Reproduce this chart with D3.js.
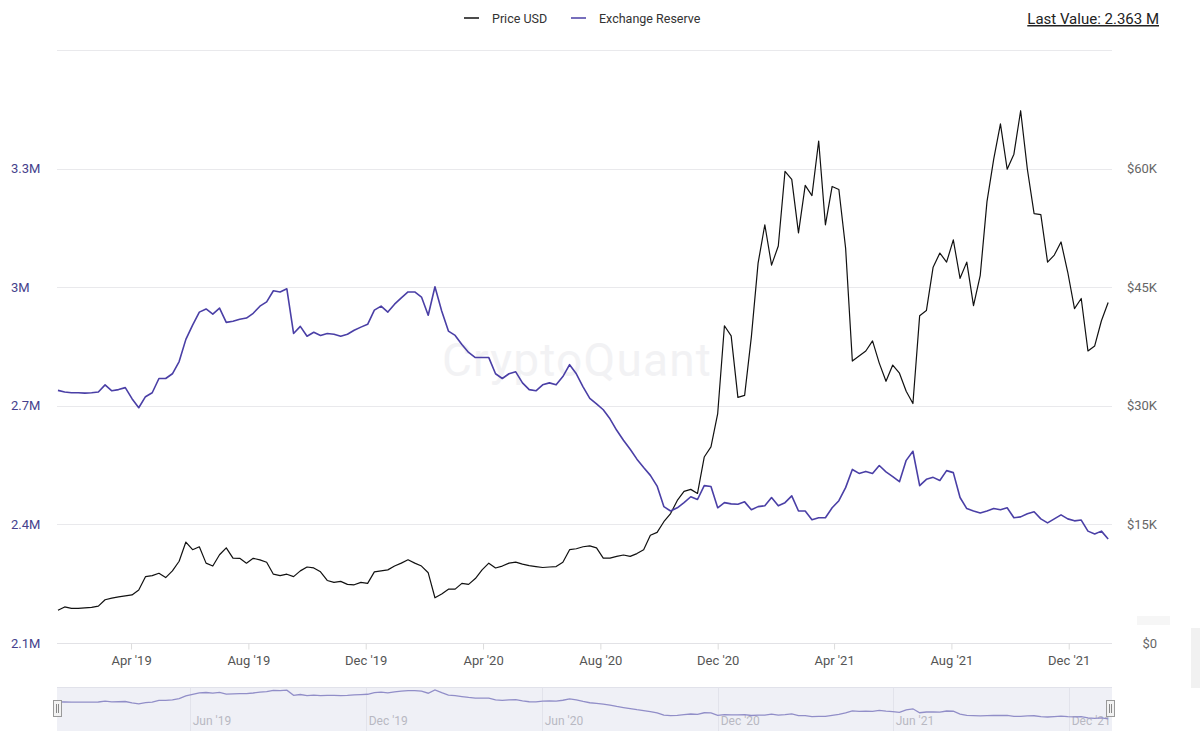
<!DOCTYPE html>
<html>
<head>
<meta charset="utf-8">
<script src="https://cdn.jsdelivr.net/npm/d3@7"></script>
<style>
  html, body { margin: 0; padding: 0; background: #ffffff; }
  svg { display: block; font-family: Roboto, 'Noto Sans', sans-serif; }
</style>
</head>
<body>
<div id="chart"></div>
<script>
// weekly samples, first one on 15 Jan 2019
const START_DATE = new Date(2019, 0, 15)
const STEP_DAYS = 7

// Exchange Reserve, million BTC
const reserveValues = [
  2.739, 2.735, 2.733, 2.733, 2.732, 2.733, 2.735, 2.753, 2.738, 2.741,
  2.746, 2.718, 2.695, 2.723, 2.733, 2.769, 2.769, 2.781, 2.812, 2.868,
  2.904, 2.937, 2.945, 2.932, 2.947, 2.911, 2.914, 2.919, 2.922, 2.934,
  2.952, 2.963, 2.991, 2.988, 2.996, 2.883, 2.901, 2.876, 2.886, 2.878,
  2.883, 2.881, 2.876, 2.881, 2.891, 2.899, 2.906, 2.942, 2.952, 2.937,
  2.957, 2.973, 2.988, 2.988, 2.975, 2.929, 3.001, 2.940, 2.889, 2.878,
  2.855, 2.835, 2.822, 2.822, 2.822, 2.781, 2.769, 2.781, 2.786, 2.758,
  2.741, 2.738, 2.753, 2.758, 2.753, 2.774, 2.804, 2.781, 2.748, 2.719,
  2.705, 2.690, 2.667, 2.638, 2.613, 2.590, 2.565, 2.544, 2.524, 2.497,
  2.445, 2.434, 2.442, 2.455, 2.470, 2.463, 2.498, 2.496, 2.442, 2.455,
  2.452, 2.451, 2.457, 2.437, 2.445, 2.447, 2.468, 2.447, 2.455, 2.472,
  2.434, 2.434, 2.412, 2.417, 2.417, 2.442, 2.460, 2.493, 2.539, 2.529,
  2.534, 2.529, 2.549, 2.533, 2.521, 2.508, 2.562, 2.585, 2.498, 2.514,
  2.519, 2.511, 2.536, 2.531, 2.468, 2.440, 2.434, 2.429, 2.434, 2.440,
  2.437, 2.442, 2.417, 2.419, 2.427, 2.432, 2.414, 2.404, 2.414, 2.424,
  2.414, 2.409, 2.411, 2.383, 2.376, 2.383, 2.363
]

// Price USD, thousands
const priceValues = [
  4.14, 4.56, 4.38, 4.38, 4.44, 4.50, 4.66, 5.47, 5.68, 5.84,
  5.96, 6.08, 6.69, 8.39, 8.52, 8.82, 8.27, 9.12, 10.34, 12.77,
  11.80, 12.17, 10.10, 9.73, 11.16, 12.04, 10.74, 10.71, 10.10, 10.71,
  10.52, 10.22, 8.70, 8.52, 8.70, 8.39, 9.12, 9.61, 9.49, 9.00,
  7.91, 7.66, 7.79, 7.42, 7.36, 7.66, 7.54, 9.00, 9.12, 9.25,
  9.73, 10.10, 10.52, 10.10, 9.73, 8.88, 5.72, 6.20, 6.81, 6.81,
  7.54, 7.42, 8.15, 9.25, 10.10, 9.49, 9.73, 10.10, 10.22, 9.98,
  9.79, 9.67, 9.55, 9.61, 9.67, 10.22, 11.80, 11.92, 12.17, 12.29,
  12.04, 10.74, 10.74, 10.95, 11.13, 10.95, 11.31, 11.80, 13.63, 13.99,
  15.34, 16.37, 18.03, 19.18, 19.43, 18.92, 23.52, 24.80, 29.02, 40.12,
  38.85, 31.06, 31.31, 38.72, 48.04, 52.90, 47.79, 50.21, 59.66, 58.64,
  51.87, 57.87, 56.59, 63.49, 52.89, 57.74, 57.36, 49.95, 35.66, 36.29,
  36.93, 38.21, 35.40, 33.10, 35.15, 34.12, 31.83, 30.29, 41.40, 42.04,
  47.53, 49.32, 48.17, 50.98, 46.12, 48.17, 42.68, 46.51, 55.83, 61.19,
  65.66, 59.92, 61.83, 67.32, 59.92, 54.30, 54.17, 48.17, 49.06, 50.72,
  46.89, 42.29, 43.57, 36.93, 37.57, 40.76, 43.06
]

const reserveTicks = [2.1, 2.4, 2.7, 3.0, 3.3, 3.6]
const reserveLabels = ['2.1M', '2.4M', '2.7M', '3M', '3.3M', '']
const priceTicks = [0, 15, 30, 45, 60, 75]
const priceLabels = ['$0', '$15K', '$30K', '$45K', '$60K', '']

const xTickDates = [
  new Date(2019, 3, 1), new Date(2019, 7, 1), new Date(2019, 11, 1),
  new Date(2020, 3, 1), new Date(2020, 7, 1), new Date(2020, 11, 1),
  new Date(2021, 3, 1), new Date(2021, 7, 1), new Date(2021, 11, 1)
]
const navTickDates = [
  new Date(2019, 5, 1), new Date(2019, 11, 1), new Date(2020, 5, 1),
  new Date(2020, 11, 1), new Date(2021, 5, 1), new Date(2021, 11, 1)
]

const LAST_VALUE = 'Last Value: 2.363 M'

const W = 1200
const H = 742
const PLOT_L = 57
const PLOT_R = 1112
const PLOT_T = 50
const PLOT_B = 643
const NAV_T = 687
const NAV_B = 731

const RESERVE_COLOR = '#4a3fa6'
const PRICE_COLOR = '#111111'
const GRID_COLOR = '#e9e9ec'

const dates = reserveValues.map((d, i) => d3.timeDay.offset(START_DATE, i * STEP_DAYS))

const x = d3
  .scaleTime()
  .domain([new Date(2019, 0, 14), new Date(2022, 0, 15)])
  .range([PLOT_L, PLOT_R])

const yReserve = d3.scaleLinear().domain([2.1, 3.6]).range([PLOT_B, PLOT_T])
const yPrice = d3.scaleLinear().domain([0, 75]).range([PLOT_B, PLOT_T])
const yNav = d3.scaleLinear().domain([2.36, 3.0]).range([719, 690])

const svg = d3.select('#chart').append('svg').attr('width', W).attr('height', H)

svg.append('rect').attr('width', W).attr('height', H).attr('fill', '#ffffff')

// faint screenshot artefacts at the right edge
svg.append('rect').attr('x', 1137).attr('y', 616).attr('width', 33).attr('height', 9).attr('fill', '#f6f6f6')
svg.append('rect').attr('x', 1191).attr('y', 628).attr('width', 9).attr('height', 60).attr('fill', '#f1f1f1')

// grid
svg
  .append('g')
  .selectAll('line')
  .data(reserveTicks)
  .join('line')
  .attr('x1', PLOT_L)
  .attr('x2', PLOT_R)
  .attr('y1', (d) => Math.round(yReserve(d)) + 0.5)
  .attr('y2', (d) => Math.round(yReserve(d)) + 0.5)
  .attr('stroke', (d, i) => (i === 0 ? '#e2e2e6' : GRID_COLOR))
  .attr('stroke-width', 1)

// watermark
svg
  .append('text')
  .attr('x', 577)
  .attr('y', 376)
  .attr('text-anchor', 'middle')
  .attr('font-size', 46)
  .attr('font-weight', 400)
  .attr('letter-spacing', 1.2)
  .attr('fill', '#f2f2f4')
  .text('CryptoQuant')

// left axis
const leftAxis = d3
  .axisLeft(yReserve)
  .tickValues(reserveTicks)
  .tickSize(0)
  .tickFormat((d, i) => reserveLabels[i])

svg
  .append('g')
  .attr('transform', 'translate(11,0)')
  .call(leftAxis)
  .call((g) => g.select('.domain').remove())
  .call((g) =>
    g
      .selectAll('text')
      .attr('x', 0)
      .attr('text-anchor', 'start')
      .attr('fill', '#463f8c')
      .attr('font-size', 13)
      .attr('font-family', 'Roboto, sans-serif')
  )

// right axis
const rightAxis = d3
  .axisRight(yPrice)
  .tickValues(priceTicks)
  .tickSize(0)
  .tickFormat((d, i) => priceLabels[i])

svg
  .append('g')
  .attr('transform', 'translate(1157,0)')
  .call(rightAxis)
  .call((g) => g.select('.domain').remove())
  .call((g) =>
    g
      .selectAll('text')
      .attr('x', 0)
      .attr('text-anchor', 'end')
      .attr('fill', '#666666')
      .attr('font-size', 13)
      .attr('font-family', 'Roboto, sans-serif')
  )

// bottom axis
const bottomAxis = d3
  .axisBottom(x)
  .tickValues(xTickDates)
  .tickSize(6)
  .tickPadding(6)
  .tickFormat(d3.timeFormat("%b '%y"))

svg
  .append('g')
  .attr('transform', `translate(0,${PLOT_B + 0.5})`)
  .call(bottomAxis)
  .call((g) => g.select('.domain').remove())
  .call((g) => g.selectAll('line').attr('stroke', '#dcdcdc'))
  .call((g) =>
    g
      .selectAll('text')
      .attr('fill', '#555555')
      .attr('font-size', 13)
      .attr('font-family', 'Roboto, sans-serif')
  )

// series
const reserveLine = d3
  .line()
  .x((d, i) => x(dates[i]))
  .y((d) => yReserve(d))

const priceLine = d3
  .line()
  .x((d, i) => x(dates[i]))
  .y((d) => yPrice(d))

svg
  .append('path')
  .datum(priceValues)
  .attr('d', priceLine)
  .attr('fill', 'none')
  .attr('stroke', PRICE_COLOR)
  .attr('stroke-width', 1.2)
  .attr('stroke-linejoin', 'round')

svg
  .append('path')
  .datum(reserveValues)
  .attr('d', reserveLine)
  .attr('fill', 'none')
  .attr('stroke', RESERVE_COLOR)
  .attr('stroke-width', 1.6)
  .attr('stroke-linejoin', 'round')

// legend
const legend = svg.append('g').attr('transform', 'translate(464,18)')
const legendItems = [
  { name: 'Price USD', color: PRICE_COLOR, x: 0 },
  { name: 'Exchange Reserve', color: RESERVE_COLOR, x: 107 },
]
legendItems.forEach((item) => {
  legend
    .append('line')
    .attr('x1', item.x)
    .attr('x2', item.x + 15)
    .attr('y1', 0)
    .attr('y2', 0)
    .attr('stroke', item.color)
    .attr('stroke-width', 1.5)
  legend
    .append('text')
    .attr('x', item.x + 28)
    .attr('y', 4.5)
    .attr('font-size', 12.5)
    .attr('fill', '#333333')
    .text(item.name)
})

svg
  .append('text')
  .attr('x', 1159)
  .attr('y', 24)
  .attr('text-anchor', 'end')
  .attr('font-size', 15)
  .attr('fill', '#222222')
  .attr('text-decoration', 'underline')
  .text(LAST_VALUE)

// navigator
const nav = svg.append('g')

nav
  .append('rect')
  .attr('x', PLOT_L)
  .attr('y', NAV_T)
  .attr('width', PLOT_R - PLOT_L)
  .attr('height', NAV_B - NAV_T)
  .attr('fill', '#eff0f6')

nav
  .append('line')
  .attr('x1', PLOT_L)
  .attr('x2', PLOT_R)
  .attr('y1', NAV_T + 0.5)
  .attr('y2', NAV_T + 0.5)
  .attr('stroke', '#e1e2ea')

nav
  .selectAll('.nav-tick')
  .data(navTickDates)
  .join('line')
  .attr('class', 'nav-tick')
  .attr('x1', (d) => Math.round(x(d)) + 0.5)
  .attr('x2', (d) => Math.round(x(d)) + 0.5)
  .attr('y1', NAV_T)
  .attr('y2', NAV_B)
  .attr('stroke', '#e2e3eb')

nav
  .selectAll('.nav-label')
  .data(navTickDates)
  .join('text')
  .attr('class', 'nav-label')
  .attr('x', (d) => x(d) + 3)
  .attr('y', 725)
  .attr('font-size', 12)
  .attr('fill', '#b8b8c2')
  .text(d3.timeFormat("%b '%y"))

const navLine = d3
  .line()
  .x((d, i) => x(dates[i]))
  .y((d) => yNav(d))

nav
  .append('path')
  .datum(reserveValues)
  .attr('d', navLine)
  .attr('fill', 'none')
  .attr('stroke', '#918ec8')
  .attr('stroke-width', 1.3)

const drawHandle = (cx) => {
  const h = nav.append('g').attr('transform', `translate(${cx - 4},${700})`)
  h.append('rect')
    .attr('x', 0.5)
    .attr('y', 0.5)
    .attr('width', 8)
    .attr('height', 16)
    .attr('fill', '#f2f2f2')
    .attr('stroke', '#999999')
  h.append('line').attr('x1', 3.5).attr('x2', 3.5).attr('y1', 4).attr('y2', 13).attr('stroke', '#888888')
  h.append('line').attr('x1', 5.5).attr('x2', 5.5).attr('y1', 4).attr('y2', 13).attr('stroke', '#888888')
}
drawHandle(PLOT_L)
drawHandle(PLOT_R - 2)
</script>
</body>
</html>
